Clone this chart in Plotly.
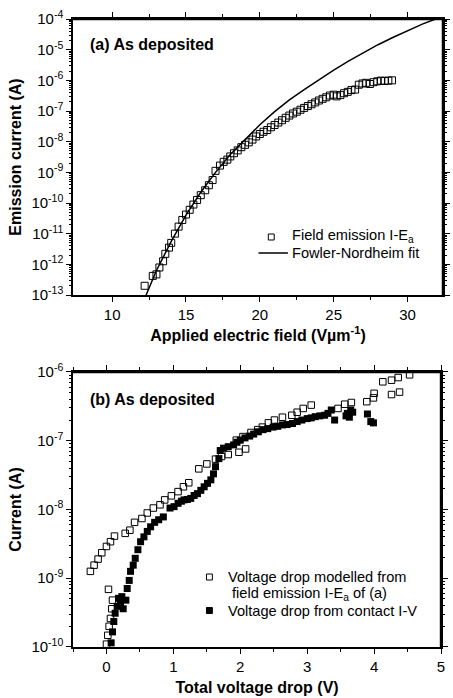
import plotly.graph_objects as go

# ---------------- Panel (a) data ----------------
field_E = [12.2, 12.75, 13.0, 13.2, 13.45, 13.6, 13.85, 14.0, 14.25, 14.5, 14.75, 15.0,
           15.25, 15.5, 15.75, 16.0, 16.3, 16.55, 16.8, 17.0, 17.3, 17.55, 17.8, 18.0,
           18.25, 18.5, 18.75, 19.0, 19.25, 19.5, 19.75, 20.0, 20.25, 20.5, 20.75, 21.0,
           21.25, 21.5, 21.75, 22.0, 22.25, 22.5, 22.75, 23.0, 23.25, 23.5, 23.75, 24.0,
           24.25, 24.5, 24.75, 25.0, 25.2, 25.45, 25.7, 25.95, 26.2, 26.45, 26.7, 26.95,
           27.2, 27.45, 27.7, 27.95, 28.2, 28.45, 28.7, 28.95]
field_I = [2.0e-13, 4.2e-13, 4.7e-13, 7.9e-13, 1.26e-12, 2.2e-12, 3.5e-12, 5.0e-12,
           1.0e-11, 1.7e-11, 2.8e-11, 4.2e-11, 6.0e-11, 8.9e-11, 1.26e-10, 1.8e-10,
           2.6e-10, 3.8e-10, 5.6e-10, 1.12e-9, 1.66e-9, 2.2e-9, 2.6e-9, 3.3e-9,
           4.2e-9, 5.2e-9, 6.6e-9, 7.9e-9, 9.5e-9, 1.17e-8, 1.48e-8, 1.78e-8,
           2.1e-8, 2.4e-8, 2.95e-8, 3.5e-8, 4.2e-8, 5.0e-8, 6.0e-8, 7.1e-8,
           8.3e-8, 9.5e-8, 1.1e-7, 1.26e-7, 1.45e-7, 1.66e-7, 1.9e-7, 2.2e-7,
           2.5e-7, 2.8e-7, 3.2e-7, 3.4e-7, 3.0e-7, 3.3e-7, 3.8e-7, 4.2e-7,
           4.8e-7, 5.0e-7, 7.2e-7, 7.9e-7, 8.3e-7, 7.6e-7, 8.7e-7, 9.3e-7,
           9.8e-7, 9.5e-7, 9.8e-7, 1.0e-6]

fn_E = [12.3, 13.0, 14.0, 15.0, 16.0, 17.0, 18.0, 19.0, 20.0, 21.0, 22.0, 23.0,
        24.0, 25.0, 26.0, 27.0, 28.0, 29.0, 30.0, 31.0, 31.9]
fn_I = [1.0e-13, 6.3e-13, 5.6e-12, 4.0e-11, 2.24e-10, 1.0e-9, 3.8e-9, 1.2e-8,
        3.55e-8, 9.5e-8, 2.3e-7, 5.0e-7, 1.05e-6, 2.14e-6, 4.2e-6, 7.9e-6,
        1.45e-5, 2.5e-5, 4.2e-5, 6.8e-5, 1.0e-4]

# ---------------- Panel (b) data ----------------
model_V = [-0.24, -0.185, -0.125, -0.07, 0.0, 0.06, 0.12, 0.28, 0.35, 0.42, 0.53, 0.61,
           0.70, 0.80, 0.87, 0.97, 1.07, 1.15, 1.23, 1.38, 1.50, 1.63, 1.72, 1.82,
           1.98, 2.08, 1.94, 2.04, 2.16, 2.26, 2.33, 2.42, 2.51, 2.63, 2.77, 2.85,
           2.94, 3.06, 3.46, 3.56, 3.66, 3.89, 3.99, 4.00, 4.13, 4.26, 4.36, 4.53,
           4.26, 4.38, 0.03, 0.09, 0.08, 0.06, 0.04, 0.02, 0.0]
model_I = [1.26e-9, 1.55e-9, 1.9e-9, 2.35e-9, 2.9e-9, 3.4e-9, 4.1e-9, 4.5e-9, 5.0e-9,
           6.5e-9, 7.4e-9, 8.9e-9, 1.05e-8, 1.17e-8, 1.38e-8, 1.58e-8, 1.82e-8,
           2.14e-8, 2.45e-8, 3.9e-8, 4.6e-8, 5.4e-8, 5.9e-8, 6.3e-8, 6.8e-8, 7.6e-8,
           1.02e-7, 1.15e-7, 1.32e-7, 1.45e-7, 1.58e-7, 1.82e-7, 2.0e-7, 2.2e-7,
           2.35e-7, 2.6e-7, 2.95e-7, 3.3e-7, 2.95e-7, 3.4e-7, 3.6e-7, 3.7e-7, 4.2e-7,
           4.9e-7, 7.2e-7, 7.6e-7, 8.3e-7, 9.1e-7, 4.7e-7, 5.1e-7, 6.9e-10, 4.8e-10,
           3.6e-10, 2.6e-10, 2.0e-10, 1.48e-10, 1.1e-10]

contact_V = [0.07, 0.09, 0.11, 0.13, 0.16, 0.18, 0.21, 0.23, 0.25, 0.29, 0.31, 0.34,
             0.36, 0.40, 0.43, 0.47, 0.51, 0.56, 0.61, 0.66, 0.72, 0.78, 0.85, 0.95,
             1.01, 1.07, 1.12, 1.16, 1.21, 1.26, 1.31, 1.36, 1.41, 1.46, 1.51, 1.56,
             1.60, 1.63, 1.68, 1.70, 1.75, 1.82, 1.90, 1.95, 2.00, 2.07, 2.14, 2.20,
             2.27, 2.34, 2.41, 2.49, 2.56, 2.63, 2.70, 2.78, 2.85, 2.92, 3.00, 3.06,
             3.12, 3.19, 3.26, 3.31, 3.36, 3.41, 3.58, 3.60, 3.63, 3.65, 3.68, 3.90,
             3.95, 3.99]
contact_I = [1.15e-10, 1.66e-10, 2.35e-10, 3.1e-10, 3.9e-10, 5.1e-10, 4.4e-10, 5.4e-10,
             3.6e-10, 4.8e-10, 7.1e-10, 9.3e-10, 1.26e-9, 1.55e-9, 1.95e-9, 2.6e-9,
             3.4e-9, 4.0e-9, 4.8e-9, 5.6e-9, 6.5e-9, 7.1e-9, 7.8e-9, 1.05e-8,
             1.1e-8, 1.23e-8, 1.32e-8, 1.38e-8, 1.4e-8, 1.45e-8, 1.6e-8, 1.7e-8,
             1.9e-8, 2.14e-8, 2.4e-8, 2.7e-8, 3.3e-8, 4.2e-8, 5.5e-8, 7.2e-8,
             7.8e-8, 8.2e-8, 8.7e-8, 9.5e-8, 1.02e-7, 1.1e-7, 1.17e-7, 1.25e-7,
             1.35e-7, 1.45e-7, 1.5e-7, 1.58e-7, 1.62e-7, 1.7e-7, 1.72e-7, 1.78e-7,
             1.9e-7, 2.0e-7, 2.1e-7, 2.15e-7, 2.24e-7, 2.3e-7, 2.35e-7, 2.5e-7,
             2.8e-7, 2.0e-7, 2.3e-7, 2.5e-7, 2.2e-7, 2.8e-7, 2.6e-7, 2.45e-7,
             1.9e-7, 1.82e-7]

top_xticks = [10, 15, 20, 25, 30]
bot_xticks = [0, 1, 2, 3, 4, 5]
top_yticks = [1e-13, 1e-12, 1e-11, 1e-10, 1e-9, 1e-8, 1e-7, 1e-6, 1e-5, 1e-4]
top_ytext = ["10<sup>-13</sup>", "10<sup>-12</sup>", "10<sup>-11</sup>", "10<sup>-10</sup>",
             "10<sup>-9</sup>", "10<sup>-8</sup>", "10<sup>-7</sup>", "10<sup>-6</sup>",
             "10<sup>-5</sup>", "10<sup>-4</sup>"]
bot_yticks = [1e-10, 1e-9, 1e-8, 1e-7, 1e-6]
bot_ytext = ["10<sup>-10</sup>", "10<sup>-9</sup>", "10<sup>-8</sup>", "10<sup>-7</sup>",
             "10<sup>-6</sup>"]

# minor tick positions (2..9 inside each decade) - axis decoration only
top_minor_y = [m * d for d in top_yticks[:-1] for m in range(2, 10)]
bot_minor_y = [m * d for d in bot_yticks[:-1] for m in range(2, 10)]
top_minor_x = [12.5, 17.5, 22.5, 27.5]
bot_minor_x = [-0.5, 0.5, 1.5, 2.5, 3.5, 4.5]

FONT = "Liberation Sans, Arial, sans-serif"
BLACK = "black"

fig = go.Figure()

fig.add_trace(go.Scatter(x=field_E, y=field_I, mode="markers",
                         marker=dict(symbol="square-open", size=7, color=BLACK,
                                     line=dict(width=1, color=BLACK)),
                         name="Field emission I-E<sub>a</sub>", xaxis="x", yaxis="y"))
fig.add_trace(go.Scatter(x=fn_E, y=fn_I, mode="lines", line=dict(color=BLACK, width=1.5),
                         name="Fowler-Nordheim fit", xaxis="x", yaxis="y"))
fig.add_trace(go.Scatter(x=model_V, y=model_I, mode="markers",
                         marker=dict(symbol="square-open", size=6.5, color=BLACK,
                                     line=dict(width=1, color=BLACK)),
                         name="Voltage drop modelled from field emission I-E<sub>a</sub> of (a)",
                         xaxis="x2", yaxis="y2"))
fig.add_trace(go.Scatter(x=contact_V, y=contact_I, mode="markers",
                         marker=dict(symbol="square", size=7, color=BLACK),
                         name="Voltage drop from contact I-V", xaxis="x2", yaxis="y2"))

TOP_DOM = [0.5605, 1.0]
BOT_DOM = [0.0, 0.4379]
XR_TOP = [7.35, 32.4]
XR_BOT = [-0.5, 5.0]
TITLE_FONT = dict(family=FONT, size=16, color=BLACK)

base_ax = dict(showgrid=False, zeroline=False, showline=True, linecolor=BLACK, linewidth=1.5,
               tickcolor=BLACK, tickfont=dict(family=FONT, size=15, color=BLACK),
               mirror="ticks", ticks="outside", ticklen=5, tickwidth=1.2, tickmode="array")


def minor(ln, vals):
    return dict(ticks="outside", ticklen=ln, tickwidth=1, tickcolor=BLACK, showgrid=False,
                tickmode="array", tickvals=vals)


xa = dict(base_ax, range=XR_TOP, domain=[0, 1], anchor="y", tickvals=top_xticks,
          minor=minor(3, top_minor_x),
          title=dict(text="<b>Applied electric field (Vµm<sup>-1</sup>)</b>", font=TITLE_FONT,
                     standoff=8))
ya = dict(base_ax, type="log", range=[-13, -4], domain=TOP_DOM, anchor="x",
          tickvals=top_yticks, ticktext=top_ytext, minor=minor(2, top_minor_y),
          title=dict(text="<b>Emission current (A)</b>", font=TITLE_FONT, standoff=6))
xa2 = dict(base_ax, range=XR_BOT, domain=[0, 0.9947], anchor="y2", tickvals=bot_xticks,
           minor=minor(3, bot_minor_x),
           title=dict(text="<b>Total voltage drop (V)</b>", font=TITLE_FONT, standoff=8))
ya2 = dict(base_ax, type="log", range=[-10, -6], domain=BOT_DOM, anchor="x2",
           tickvals=bot_yticks, ticktext=bot_ytext, minor=minor(2, bot_minor_y),
           title=dict(text="<b>Current (A)</b>", font=TITLE_FONT, standoff=6))

W, H = 453, 698
ML, MR, MT, MB = 73, 3, 19, 51
PW, PH = W - ML - MR, H - MT - MB


def px(x):
    return (x - ML) / PW


def py(y):
    return (H - MB - y) / PH


ann_font = dict(family=FONT, size=14.6, color=BLACK)


def label(text, x, y, font=ann_font):
    return dict(text=text, x=px(x), y=py(y), xref="paper", yref="paper", xanchor="left",
                yanchor="middle", showarrow=False, font=font, borderpad=0)


annotations = [
    label("<b>(a) As deposited</b>", 89, 45, TITLE_FONT),
    label("<b>(b) As deposited</b>", 89, 400, TITLE_FONT),
    label("Field emission I-E<sub>a</sub>", 295, 236),
    label("Fowler-Nordheim fit", 295, 253),
    label("Voltage drop modelled from", 230, 576.5),
    label(" field emission I-E<sub>a</sub> of (a)", 230, 594),
    label("Voltage drop from contact I-V", 230, 611),
]


def sq(cx, cy, half, filled):
    return dict(type="rect", xref="paper", yref="paper",
                x0=px(cx - half), x1=px(cx + half), y0=py(cy + half), y1=py(cy - half),
                line=dict(color=BLACK, width=1), fillcolor=BLACK if filled else "rgba(0,0,0,0)")


def pline(x0, y0, x1, y1):
    return dict(type="line", xref="paper", yref="paper", x0=px(x0), x1=px(x1), y0=py(y0),
                y1=py(y1), line=dict(color=BLACK, width=1.5), layer="above")


shapes = [
    # top / right frame edges of both panels
    pline(73, 19.5, 450, 19.5), pline(449.5, 19, 449.5, 295),
    pline(73, 372.5, 448, 372.5), pline(447.5, 372, 447.5, 647),
    sq(275, 237, 3, False),
    pline(262, 253, 292, 253),
    sq(212, 577, 3, False),
    sq(212, 610.5, 3, True),
]

fig.update_layout(
    width=W, height=H, autosize=False,
    margin=dict(l=ML, r=MR, t=MT, b=MB, pad=0),
    paper_bgcolor="white", plot_bgcolor="white",
    showlegend=False,
    xaxis=xa, yaxis=ya, xaxis2=xa2, yaxis2=ya2,
    annotations=annotations, shapes=shapes,
    font=dict(family=FONT, color=BLACK),
)

fig.write_html("out.html", include_plotlyjs=True)
